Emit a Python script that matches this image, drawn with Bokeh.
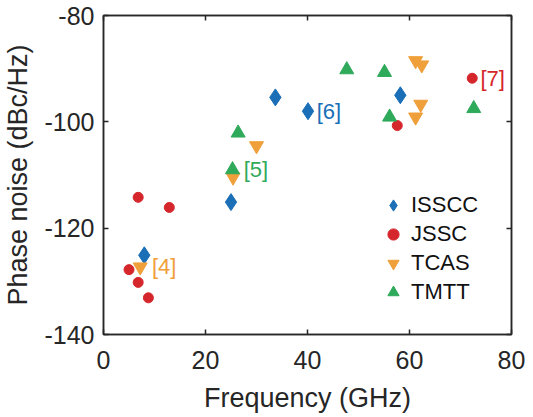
from bokeh.plotting import figure
from bokeh.models import LinearAxis, Legend, LegendItem, FixedTicker, Range1d, Label
from bokeh.embed import file_html
from bokeh.resources import INLINE

# Data (frequency GHz, phase noise dBc/Hz)
isscc_x = [8.0, 25.0, 33.7, 40.1, 58.2]
isscc_y = [-125.1, -115.1, -95.4, -98.0, -95.0]

jssc_x = [6.8, 12.9, 5.0, 6.8, 8.8, 57.6, 72.3]
jssc_y = [-114.2, -116.1, -127.8, -130.2, -133.1, -100.7, -91.8]

tcas_x = [7.2, 25.4, 30.0, 61.2, 62.4, 62.2, 61.2]
tcas_y = [-127.3, -110.4, -104.5, -88.5, -89.3, -96.7, -99.1]

tmtt_x = [26.4, 25.3, 47.7, 55.1, 56.1, 72.6]
tmtt_y = [-102.1, -109.0, -90.2, -90.7, -99.1, -97.5]

ref_text = ["[4]", "[5]", "[6]", "[7]"]
ref_x = [9.5, 27.5, 41.8, 73.9]
ref_y = [-127.2, -109.0, -98.0, -91.8]

x_ticks = [0, 20, 40, 60, 80]
y_ticks = [-140, -120, -100, -80]
y_tick_labels = ["-140", "-120", "-100", "-80"]

BLUE = "#1a6fb7"
RED = "#d5262b"
ORANGE = "#f0a03a"
GREEN = "#2fa95a"
ref_colors = [ORANGE, GREEN, BLUE, RED]

FONT = "Liberation Sans"
AX = "#262626"

p = figure(width=533, height=417, output_backend="svg", toolbar_location=None,
           x_range=Range1d(0, 80), y_range=Range1d(-140, -80),
           min_border_left=101, min_border_right=24, min_border_top=15, min_border_bottom=83,
           frame_width=408, frame_height=319)
p.xgrid.visible = False
p.ygrid.visible = False
p.outline_line_color = AX
p.outline_line_width = 1.5
p.background_fill_color = "white"
p.border_fill_color = "white"

r1 = p.scatter(isscc_x, isscc_y, marker="diamond", size=17, color=BLUE)
r2 = p.scatter(jssc_x, jssc_y, marker="circle", size=10, color=RED)
r3 = p.scatter(tcas_x, tcas_y, marker="inverted_triangle", size=14, color=ORANGE)
r4 = p.scatter(tmtt_x, tmtt_y, marker="triangle", size=14, color=GREEN)

for t, x, y, c in zip(ref_text, ref_x, ref_y, ref_colors):
    p.add_layout(Label(x=x, y=y, text=t, text_color=c, text_font=FONT,
                       text_font_size="22px", text_baseline="middle", text_align="left"))

for ax in (p.xaxis[0], p.yaxis[0]):
    ax.axis_line_color = AX
    ax.axis_line_width = 1.5
    ax.major_tick_in = 5
    ax.major_tick_out = 0
    ax.minor_tick_in = 0
    ax.minor_tick_out = 0
    ax.major_tick_line_color = AX
    ax.major_tick_line_width = 1.5
    ax.major_label_text_font = FONT
    ax.major_label_text_font_size = "25px"
    ax.major_label_text_color = AX
    ax.axis_label_text_font = FONT
    ax.axis_label_text_font_size = "27px"
    ax.axis_label_text_font_style = "normal"
    ax.axis_label_text_color = AX

p.xaxis[0].ticker = FixedTicker(ticks=x_ticks)
p.yaxis[0].ticker = FixedTicker(ticks=y_ticks)
p.yaxis[0].major_label_overrides = {t: s for t, s in zip(y_ticks, y_tick_labels)}
p.xaxis[0].axis_label = "Frequency (GHz)"
p.yaxis[0].axis_label = "Phase noise (dBc/Hz)"
p.xaxis[0].major_label_standoff = 16
p.yaxis[0].major_label_standoff = 9
p.xaxis[0].axis_label_standoff = 11
p.yaxis[0].axis_label_standoff = 8

for loc, tick in (("right", y_ticks), ("above", x_ticks)):
    a = LinearAxis(ticker=FixedTicker(ticks=tick), major_label_text_font_size="0px",
                   major_tick_in=5, major_tick_out=0, minor_tick_in=0, minor_tick_out=0,
                   axis_line_color=AX, axis_line_width=1.5,
                   major_tick_line_color=AX, major_tick_line_width=1.5,
                   major_label_standoff=0)
    p.add_layout(a, loc)

legend = Legend(items=[
    LegendItem(label="ISSCC", renderers=[r1]),
    LegendItem(label="JSSC", renderers=[r2]),
    LegendItem(label="TCAS", renderers=[r3]),
    LegendItem(label="TMTT", renderers=[r4]),
], location=(272, 24), background_fill_alpha=0, border_line_alpha=0,
    label_text_font=FONT, label_text_font_size="22px", label_text_color="#111111",
    glyph_width=28, glyph_height=28, spacing=1, label_standoff=4, padding=4)
p.add_layout(legend, "center")

open("out.html", "w").write(file_html(p, INLINE))
